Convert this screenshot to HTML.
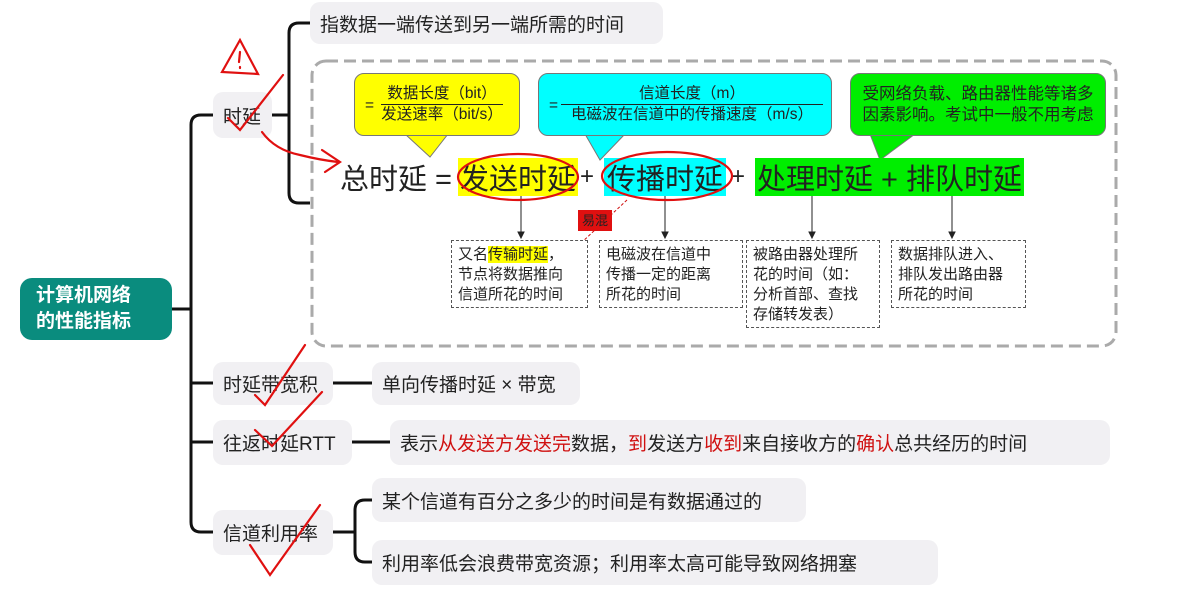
<!DOCTYPE html>
<html><head><meta charset="utf-8"><style>
*{margin:0;padding:0;box-sizing:border-box}
body{width:1184px;height:590px;background:#fff;position:relative;overflow:hidden;font-family:"Liberation Sans","Noto Sans CJK SC",sans-serif;color:#222}
.a{position:absolute}
.n{position:absolute;background:#f1f0f3;border-radius:10px;font-size:19px;display:flex;align-items:center;padding-left:10px;white-space:nowrap;color:#222}
.r{color:#d01010}
.d{position:absolute;border:1.5px dashed #555;font-size:15px;line-height:20px;padding:4px 6px;background:#fff;color:#222}
.b{position:absolute;border:1px solid #777;border-radius:10px;font-size:15.5px;line-height:20px;text-align:center}
.hl{position:absolute;font-size:29px;display:flex;align-items:center;justify-content:center;white-space:nowrap}
</style></head><body>
<svg class="a" style="left:0;top:0" width="1184" height="590">
<g fill="none" stroke="#111" stroke-width="3">
<path d="M172 309H191"/>
<path d="M213 115H201Q191 115 191 125V522Q191 532 201 532H213"/>
<path d="M191 383H213M191 442H213"/>
<path d="M272 115H289"/>
<path d="M310 23H299Q289 23 289 33V193Q289 203 299 203H310"/>
<path d="M333 383H372M352 442H390"/>
<path d="M333 532H355M372 500H365Q355 500 355 510V552Q355 562 365 562H372"/>
</g>
<rect x="312" y="61" width="804" height="285" rx="14" fill="none" stroke="#aaa" stroke-width="3" stroke-dasharray="12 6"/>
<polygon points="405,134 448,134 430,157" fill="#ffff00" stroke="#777"/>
<polygon points="585,134 625,134 600,160" fill="#00ffff" stroke="#777"/>
<polygon points="870,134 915,134 880,160" fill="#00ee00" stroke="#777"/>
<g stroke="#222" stroke-width="1" fill="#222">
<path d="M521 196V236M665 196V236M812 196V236M952 196V236"/>
<polygon points="518,232 524,232 521,238"/><polygon points="662,232 668,232 665,238"/><polygon points="809,232 815,232 812,238"/><polygon points="949,232 955,232 952,238"/>
</g>
<path d="M627 200L565 258" stroke="#d01010" stroke-dasharray="3 2" fill="none"/>
</svg>
<div class="a" style="left:20px;top:278px;width:152px;height:62px;background:#0a8c7e;border-radius:12px;color:#fff;font-weight:bold;font-size:19px;line-height:26px;padding:5px 0 0 16px">计算机网络<br>的性能指标</div>
<div class="n" style="left:213px;top:92px;width:59px;height:46px">时延</div>
<div class="n" style="left:213px;top:362px;width:120px;height:43px">时延带宽积</div>
<div class="n" style="left:213px;top:420px;width:139px;height:45px">往返时延RTT</div>
<div class="n" style="left:213px;top:510px;width:120px;height:45px">信道利用率</div>
<div class="n" style="left:310px;top:2px;width:353px;height:42px">指数据一端传送到另一端所需的时间</div>
<div class="n" style="left:372px;top:362px;width:208px;height:43px">单向传播时延 × 带宽</div>
<div class="n" style="left:390px;top:420px;width:720px;height:45px">表示<span class="r">从发送方发送完</span>数据，<span class="r">到</span>发送方<span class="r">收到</span>来自接收方的<span class="r">确认</span>总共经历的时间</div>
<div class="n" style="left:372px;top:478px;width:434px;height:44px">某个信道有百分之多少的时间是有数据通过的</div>
<div class="n" style="left:372px;top:540px;width:566px;height:45px">利用率低会浪费带宽资源；利用率太高可能导致网络拥塞</div>
<div class="b" style="left:354px;top:73px;width:166px;height:63px;background:#ffff00;padding-top:10px"><span style="position:absolute;left:10px;top:22px">=</span><div style="margin-left:10px;border-bottom:1px solid #222;display:inline-block;padding:0 6px">数据长度（bit）</div><br><span style="margin-left:10px">发送速率（bit/s）</span></div>
<div class="b" style="left:538px;top:73px;width:294px;height:63px;background:#00ffff;padding-top:10px"><span style="position:absolute;left:10px;top:22px">=</span><div style="margin-left:14px;border-bottom:1px solid #222;display:inline-block;width:262px">信道长度（m）</div><br><span style="margin-left:14px">电磁波在信道中的传播速度（m/s）</span></div>
<div class="b" style="left:850px;top:73px;width:256px;height:63px;background:#00ee00;padding-top:10px;font-size:16.5px;line-height:21px">受网络负载、路由器性能等诸多<br>因素影响。考试中一般不用考虑</div>
<div class="hl" style="left:340px;top:158px;height:38px">总时延 =</div>
<div class="hl" style="left:458px;top:158px;width:120px;height:38px;background:#ffff00">发送时延</div>
<div class="hl" style="left:580px;top:158px;height:38px;font-size:24px">+</div>
<div class="hl" style="left:604px;top:158px;width:122px;height:38px;background:#00ffff">传播时延</div>
<div class="hl" style="left:731px;top:158px;height:38px;font-size:24px">+</div>
<div class="hl" style="left:755px;top:158px;width:269px;height:38px;background:#00ee00">处理时延 + 排队时延</div>
<div class="a" style="left:578px;top:210px;width:34px;height:21px;background:#e01010;color:#222;font-size:13px;text-align:center;line-height:21px">易混</div>
<div class="d" style="left:451px;top:240px;width:137px;height:68px">又名<span style="background:#ffff00">传输时延</span>，<br>节点将数据推向<br>信道所花的时间</div>
<div class="d" style="left:599px;top:240px;width:144px;height:68px">电磁波在信道中<br>传播一定的距离<br>所花的时间</div>
<div class="d" style="left:746px;top:240px;width:134px;height:88px">被路由器处理所<br>花的时间（如：<br>分析首部、查找<br>存储转发表）</div>
<div class="d" style="left:891px;top:240px;width:135px;height:68px">数据排队进入、<br>排队发出路由器<br>所花的时间</div>
<svg class="a" style="left:0;top:0" width="1184" height="590">
<g fill="none" stroke="#e01010" stroke-width="2.2" stroke-linecap="round">
<path d="M222 72L240 40L258 74Z"/><path d="M240 52L239 62M240 67L240 68"/>
<path d="M228 118L240 130L283 75"/>
<path d="M262 132Q275 150 300 155Q320 160 338 162M322 150L340 162L325 172"/>
<ellipse cx="518" cy="177" rx="60" ry="23"/>
<ellipse cx="667" cy="176" rx="65" ry="24"/>
<path d="M255 395L265 405L305 345"/>
<path d="M255 430L272 446L322 392"/>
<path d="M250 545L270 575L320 505"/>
</g>
</svg>
</body></html>
